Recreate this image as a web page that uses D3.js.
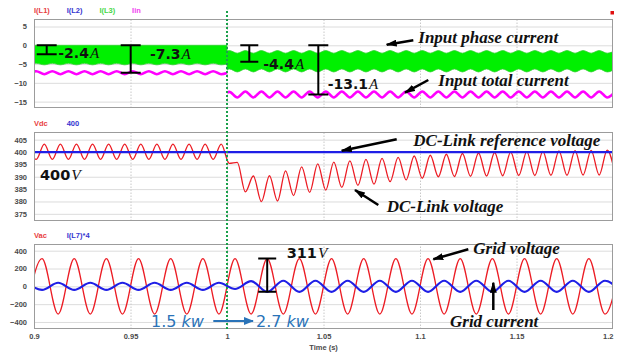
<!DOCTYPE html>
<html>
<head>
<meta charset="utf-8">
<script src="https://cdn.jsdelivr.net/npm/d3@7"></script>
<style>
  html, body { margin: 0; padding: 0; background: #fff; }
  svg { display: block; }
</style>
</head>
<body>
<svg id="chart" width="621" height="354"></svg>
<script>
// ---------- axis ticks ----------
const timeTicks = [0.9, 0.95, 1.0, 1.05, 1.1, 1.15, 1.2];
const currentTicks = [5, 0, -5, -10, -15];
const dcTicks = [405, 400, 395, 390, 385, 380, 375];
const acTicks = [400, 200, 0, -200, -400];

// ---------- trace names ----------
const currentNames = ["I(L1)", "I(L2)", "I(L3)", "Iin"];
const dcNames = ["Vdc", "400"];
const acNames = ["Vac", "I(L7)*4"];

// ---------- timing ----------
const stepTime = 1.0;            // load step 1.5 kW -> 2.7 kW
const rippleT0 = 0.8970;         // first 120 Hz ripple extremum (s)
const rippleStep = 1 / 240;      // spacing between ripple extrema (s)
const gridT0 = 0.9 - 1 / 240;    // first 60 Hz grid extremum (s)
const gridStep = 1 / 120;        // spacing between grid extrema (s)

// ---------- DC-link voltage: ripple peaks (even extrema) and troughs (odd extrema), V ----------
const vdcPeaks = [403.2, 403.2, 403.2, 403.2, 403.2, 403.2, 403.2, 403.2, 403.2, 403.2, 403.2, 403.2, 403.2,
  395.8, 390.3, 390.4, 392.4, 394.0, 395.2, 395.9, 396.4, 397.0, 397.4, 397.8, 398.4, 398.7,
  399.1, 399.4, 399.6, 399.8, 400.0, 400.2, 400.3, 400.5, 400.6, 400.7, 400.8];
const vdcTroughs = [397.0, 397.0, 397.0, 397.0, 397.0, 397.0, 397.0, 397.0, 397.0, 397.0, 397.0, 397.0,
  395.4, 383.9, 379.9, 380.2, 382.4, 383.7, 384.6, 385.7, 386.5, 387.0, 388.0, 388.7, 389.4,
  390.0, 390.1, 390.2, 390.3, 390.4, 390.5, 390.5, 390.6, 390.6, 390.7, 390.7, 390.8];
const vdcRef = 400;

// ---------- input total current Iin (A), ripple extrema ----------
const iinBefore = [-7.7, -6.9, -7.7, -6.9, -7.7, -6.9, -7.7, -6.9, -7.7, -6.9, -7.7, -6.9, -7.7,
  -6.9, -7.7, -6.9, -7.7, -6.9, -7.7, -6.9, -7.7, -6.9, -7.7, -6.9, -7.7];
const iinAtStep = [-7.4, -12.6];   // just before / just after the step
const iinAfter = [-12.4, -13.9, -12.3, -13.9, -12.3, -13.9, -12.3, -13.9, -12.3, -13.9, -12.3, -13.9,
  -12.3, -13.9, -12.3, -13.9, -12.3, -13.9, -12.3, -13.9, -12.3, -13.9, -12.3, -13.9, -12.3,
  -13.9, -12.3, -13.9, -12.3, -13.9, -12.3, -13.9, -12.3, -13.9, -12.3, -13.9, -12.3, -13.9,
  -12.3, -13.9, -12.3, -13.9, -12.3, -13.9, -12.3, -13.9, -12.3, -13.9, -12.3];

// ---------- phase current I(L3) switching band: upper / lower envelope (A) ----------
const phaseHiBefore = [0, 0, 0, 0, 0, 0, 0, 0, 0, 0, 0, 0, 0, 0, 0, 0, 0, 0, 0, 0, 0, 0, 0, 0, 0];
const phaseLoBefore = [-5.2, -4.8, -5.2, -4.8, -5.2, -4.8, -5.2, -4.8, -5.2, -4.8, -5.2, -4.8, -5.2,
  -4.8, -5.2, -4.8, -5.2, -4.8, -5.2, -4.8, -5.2, -4.8, -5.2, -4.8, -5.2];
const phaseAtStep = [[0, -5.0], [-1.6, -6.6]];  // [hi, lo] before / after the step
const phaseHiAfter = [-1.4, -2.1, -1.4, -2.1, -1.4, -2.1, -1.4, -2.1, -1.4, -2.1, -1.4, -2.1, -1.4,
  -2.1, -1.4, -2.1, -1.4, -2.1, -1.4, -2.1, -1.4, -2.1, -1.4, -2.1, -1.4, -2.1, -1.4, -2.1, -1.4,
  -2.1, -1.4, -2.1, -1.4, -2.1, -1.4, -2.1, -1.4, -2.1, -1.4, -2.1, -1.4, -2.1, -1.4, -2.1, -1.4,
  -2.1, -1.4, -2.1, -1.4];
const phaseLoAfter = [-6.3, -7.1, -6.3, -7.1, -6.3, -7.1, -6.3, -7.1, -6.3, -7.1, -6.3, -7.1, -6.3,
  -7.1, -6.3, -7.1, -6.3, -7.1, -6.3, -7.1, -6.3, -7.1, -6.3, -7.1, -6.3, -7.1, -6.3, -7.1, -6.3,
  -7.1, -6.3, -7.1, -6.3, -7.1, -6.3, -7.1, -6.3, -7.1, -6.3, -7.1, -6.3, -7.1, -6.3, -7.1, -6.3,
  -7.1, -6.3, -7.1, -6.3];

// ---------- grid voltage Vac (V) and grid current I(L7)*4, half-cycle extrema ----------
const vacExtrema = [-311, 311, -311, 311, -311, 311, -311, 311, -311, 311, -311, 311, -311, 311,
  -311, 311, -311, 311, -311, 311, -311, 311, -311, 311, -311, 311, -311, 311, -311, 311, -311,
  311, -311, 311, -311, 311, -311, 311];
const gridCurrentExtrema = [40, -40, 40, -40, 40, -40, 40, -40, 40, -40, 40, -40, 40, -30, 58,
  -62, 62, -62, 62, -62, 62, -62, 62, -62, 62, -62, 62, -62, 62, -62, 62, -62, 62, -62, 62, -62, 62, -62];

// ---------- annotation values ----------
const gridPeak = 311;
const avgBefore = [-2.4, -7.3];   // phase, total input current at 1.5 kW
const avgAfter = [-4.4, -13.1];   // phase, total input current at 2.7 kW
const powerLabels = ["1.5", "2.7"];

// ================= drawing =================
const svg = d3.select("#chart");
const left = 34, right = 613;
const x = d3.scaleLinear().domain([0.9, 1.2]).range([left, right]);

const yCur = d3.scaleLinear().domain([-16.7, 7]).range([108, 19]);
const yDc = d3.scaleLinear().domain([372.1, 408.1]).range([221, 132]);
const yAc = d3.scaleLinear().domain([-479, 475]).range([329, 244]);

const colors = {
  red: "#ec1c24", blue: "#1f1fe6", green: "#00f000", magenta: "#ff00ff",
  legRed: "#e8403f", legBlue: "#3535d0", legGreen: "#45d845", legMagenta: "#f03cf0"
};

const defs = svg.append("defs");
function marker(id, color, w, h) {
  defs.append("marker").attr("id", id)
    .attr("viewBox", `0 0 ${w} ${h}`).attr("markerUnits", "userSpaceOnUse")
    .attr("markerWidth", w).attr("markerHeight", h)
    .attr("refX", w - 1).attr("refY", h / 2).attr("orient", "auto")
    .append("path").attr("d", `M0,0 L${w},${h / 2} L0,${h} Z`).attr("fill", color);
}
marker("headBlack", "#000", 11, 7);
marker("headBlue", "#2a73b8", 10, 8);

const panels = [
  { y: yCur, ticks: currentTicks, names: currentNames,
    legend: [colors.legRed, colors.legBlue, colors.legGreen, colors.legMagenta] },
  { y: yDc, ticks: dcTicks, names: dcNames, legend: [colors.legRed, colors.legBlue] },
  { y: yAc, ticks: acTicks, names: acNames, legend: [colors.legRed, colors.legBlue] }
];

const clipGroups = panels.map((p, idx) => {
  const [bottom, top] = p.y.range();
  const g = svg.append("g");

  // horizontal grid lines
  g.append("g").attr("transform", `translate(${left},0)`)
    .call(d3.axisLeft(p.y).tickValues(p.ticks).tickSize(-(right - left)).tickFormat(""))
    .call(s => s.select(".domain").remove())
    .selectAll("line").attr("stroke", "#dcdcdc").attr("stroke-width", 1);

  // vertical grid lines
  g.append("g").attr("transform", `translate(0,${bottom})`)
    .call(d3.axisBottom(x).tickValues(timeTicks.slice(1, -1)).tickSize(-(bottom - top)).tickFormat(""))
    .call(s => s.select(".domain").remove())
    .selectAll("line").attr("stroke", "#c8c8c8").attr("stroke-dasharray", "1.5,1.5");

  // value labels
  g.append("g").attr("transform", `translate(${left},0)`)
    .call(d3.axisLeft(p.y).tickValues(p.ticks).tickSize(0).tickPadding(7))
    .call(s => s.select(".domain").remove())
    .selectAll("text")
    .attr("font-family", "Liberation Sans, Arial, sans-serif")
    .attr("font-size", 7.5).attr("font-weight", "bold").attr("fill", "#4a4a4a");

  // frame
  g.append("rect").attr("x", left + 0.5).attr("y", top + 0.5)
    .attr("width", right - left - 1).attr("height", bottom - top - 1)
    .attr("fill", "none").attr("stroke", "#9c9c9c").attr("stroke-width", 1);

  // trace names
  g.selectAll("text.leg").data(p.names).join("text").attr("class", "leg")
    .attr("x", (d, i) => left + i * 32.7).attr("y", top - 6)
    .attr("font-family", "Liberation Sans, Arial, sans-serif")
    .attr("font-size", 7.5).attr("font-weight", "bold")
    .attr("fill", (d, i) => p.legend[i]).text(d => d);

  defs.append("clipPath").attr("id", "clip" + idx)
    .append("rect").attr("x", left + 1).attr("y", top + 1)
    .attr("width", right - left - 2).attr("height", bottom - top - 2);
  return svg.append("g").attr("clip-path", `url(#clip${idx})`);
});

// time axis under the bottom panel
const xAxisG = svg.append("g").attr("transform", `translate(0,${yAc.range()[0]})`)
  .call(d3.axisBottom(x).tickValues(timeTicks).tickSize(0).tickPadding(5)
    .tickFormat(d => String(+d.toFixed(2))))
  .call(s => s.select(".domain").remove());
xAxisG.selectAll("text")
  .attr("font-family", "Liberation Sans, Arial, sans-serif")
  .attr("font-size", 7.5).attr("font-weight", "bold").attr("fill", "#4a4a4a");
xAxisG.selectAll(".tick:last-of-type text").attr("text-anchor", "end").attr("x", 0);
svg.append("text").attr("x", (left + right) / 2).attr("y", 349.5)
  .attr("text-anchor", "middle")
  .attr("font-family", "Liberation Sans, Arial, sans-serif")
  .attr("font-size", 7.5).attr("font-weight", "bold").attr("fill", "#4a4a4a")
  .text("Time (s)");

// ---------- series construction ----------
const rippleT = i => rippleT0 + i * rippleStep;
const curve = d3.curveMonotoneX;
const line = yS => d3.line().x(d => x(d[0])).y(d => yS(d[1])).curve(curve);

// phase current band
const bandBefore = phaseHiBefore.map((hi, i) => ({ t: rippleT(i), hi, lo: phaseLoBefore[i] }))
  .concat([{ t: stepTime, hi: phaseAtStep[0][0], lo: phaseAtStep[0][1] }]);
const bandAfter = [{ t: stepTime, hi: phaseAtStep[1][0], lo: phaseAtStep[1][1] }]
  .concat(phaseHiAfter.map((hi, j) => ({ t: rippleT(j + iinBefore.length), hi, lo: phaseLoAfter[j] })));
const band = d3.area().x(d => x(d.t)).y0(d => yCur(d.lo)).y1(d => yCur(d.hi)).curve(curve);

[bandBefore, bandAfter].forEach(b => {
  clipGroups[0].append("path").attr("d", band(b)).attr("fill", colors.green)
    .attr("stroke", "#2fd02f").attr("stroke-width", 0.8);
});

// input total current (two segments either side of the step)
const iinSegA = iinBefore.map((v, i) => [rippleT(i), v]).concat([[stepTime, iinAtStep[0]]]);
const iinSegB = [[stepTime, iinAtStep[1]]].concat(iinAfter.map((v, j) => [rippleT(j + iinBefore.length), v]));
[iinSegA, iinSegB].forEach(seg => {
  clipGroups[0].append("path").attr("d", line(yCur)(seg))
    .attr("fill", "none").attr("stroke", colors.magenta).attr("stroke-width", 2.6)
    .attr("stroke-linejoin", "round");
});

// DC-link voltage
const vdcSeries = d3.range(vdcPeaks.length + vdcTroughs.length).map(i =>
  [rippleT(i), i % 2 === 0 ? vdcPeaks[i / 2] : vdcTroughs[(i - 1) / 2]]);
clipGroups[1].append("path").attr("d", line(yDc)(vdcSeries))
  .attr("fill", "none").attr("stroke", colors.red).attr("stroke-width", 1.3);
clipGroups[1].append("path").attr("d", line(yDc)([[0.9, vdcRef], [1.2, vdcRef]]))
  .attr("fill", "none").attr("stroke", colors.blue).attr("stroke-width", 2.2);

// grid voltage and current
const gridT = k => gridT0 + k * gridStep;
clipGroups[2].append("path").attr("d", line(yAc)(vacExtrema.map((v, k) => [gridT(k), v])))
  .attr("fill", "none").attr("stroke", colors.red).attr("stroke-width", 1.3);
clipGroups[2].append("path").attr("d", line(yAc)(gridCurrentExtrema.map((v, k) => [gridT(k), v])))
  .attr("fill", "none").attr("stroke", colors.blue).attr("stroke-width", 2.1);

// ---------- load-step marker ----------
svg.append("line").attr("x1", x(stepTime)).attr("x2", x(stepTime))
  .attr("y1", 11).attr("y2", yAc.range()[0] + 1)
  .attr("stroke", "#19a04a").attr("stroke-width", 2).attr("stroke-dasharray", "2,2");

// ---------- annotations ----------
const ann = svg.append("g");

function bracket(t, v0, v1, yS, half) {
  const px = x(t), a = yS(v0), b = yS(v1);
  ann.append("path").attr("d", `M${px},${a}V${b}M${px - half},${a}H${px + half}M${px - half},${b}H${px + half}`)
    .attr("stroke", "#000").attr("stroke-width", 2).attr("fill", "none");
}
function valueLabel(t, v, yS, num, unit, size) {
  const txt = ann.append("text").attr("x", x(t)).attr("y", yS(v)).attr("dy", "0.36em").attr("fill", "#111");
  txt.append("tspan").text(num)
    .attr("font-family", "DejaVu Sans, Verdana, sans-serif").attr("font-weight", "bold").attr("font-size", size);
  txt.append("tspan").text(unit).attr("dx", 1)
    .attr("font-family", "Liberation Serif, Times New Roman, serif").attr("font-style", "italic")
    .attr("font-size", size + 1);
}
function note(t, v, yS, text) {
  ann.append("text").attr("x", x(t)).attr("y", yS(v)).attr("dy", "0.33em")
    .attr("font-family", "Liberation Serif, Times New Roman, serif")
    .attr("font-style", "italic").attr("font-weight", "bold").attr("font-size", 17)
    .attr("fill", "#111").text(text);
}
function arrow(t0, v0, t1, v1, yS, color, head, width) {
  ann.append("line").attr("x1", x(t0)).attr("y1", yS(v0)).attr("x2", x(t1)).attr("y2", yS(v1))
    .attr("stroke", color).attr("stroke-width", width).attr("marker-end", `url(#${head})`);
}

// input currents
bracket(0.90658, 0, avgBefore[0], yCur, 10);
valueLabel(0.91259, -1.97, yCur, String(avgBefore[0]), "A", 14);
bracket(0.95010, 0, avgBefore[1], yCur, 10);
valueLabel(0.96010, -2.13, yCur, String(avgBefore[1]), "A", 14);
bracket(1.01155, 0, avgAfter[0], yCur, 9);
valueLabel(1.01881, -4.8, yCur, String(avgAfter[0]), "A", 14);
bracket(1.04731, 0, avgAfter[1], yCur, 10);
valueLabel(1.05218, -10.12, yCur, String(avgAfter[1]), "A", 14);
note(1.09912, 2.21, yCur, "Input phase current");
arrow(1.09653, 1.33, 1.08275, 0.16, yCur, "#000", "headBlack", 2.5);
note(1.10948, -9.24, yCur, "Input total current");
arrow(1.10430, -9.24, 1.09223, -12.63, yCur, "#000", "headBlack", 2.5);

// DC link
valueLabel(0.90311, 391.1, yDc, String(vdcRef), "V", 14.5);
note(1.09653, 404.58, yDc, "DC-Link reference voltage");
arrow(1.08793, 405.15, 1.05943, 400.54, yDc, "#000", "headBlack", 2.5);
note(1.08275, 377.88, yDc, "DC-Link voltage");
arrow(1.07839, 378.57, 1.06632, 384.64, yDc, "#000", "headBlack", 2.5);

// grid side
bracket(gridT(15), gridPeak, gridCurrentExtrema[15], yAc, 9);
valueLabel(1.03093, 381.8, yAc, String(gridPeak), "V", 14.5);
note(1.12762, 426.7, yAc, "Grid voltage");
arrow(1.12503, 415.5, 1.10689, 303.3, yAc, "#000", "headBlack", 2.5);
note(1.11554, -397, yAc, "Grid current");
arrow(1.13798, -265.8, 1.13798, 40.6, yAc, "#000", "headBlack", 2.5);

// power step
function powerLabel(t, v, num) {
  const txt = ann.append("text").attr("x", x(t)).attr("y", yAc(v)).attr("dy", "0.36em")
    .attr("fill", "#2a73b8").attr("font-family", "DejaVu Sans, Verdana, sans-serif").attr("font-size", 16);
  txt.append("tspan").text(num + " ");
  txt.append("tspan").text("kw").attr("font-style", "italic");
}
powerLabel(0.96062, -389.2, powerLabels[0]);
arrow(0.99290, -389.2, 1.01347, -389.2, yAc, "#2a73b8", "headBlue", 2.2);
powerLabel(1.01503, -389.2, powerLabels[1]);

// status marker in the top-right corner
svg.append("rect").attr("x", 610.5).attr("y", 11).attr("width", 3.5).attr("height", 3.5).attr("fill", "#e01010");
</script>
</body>
</html>
